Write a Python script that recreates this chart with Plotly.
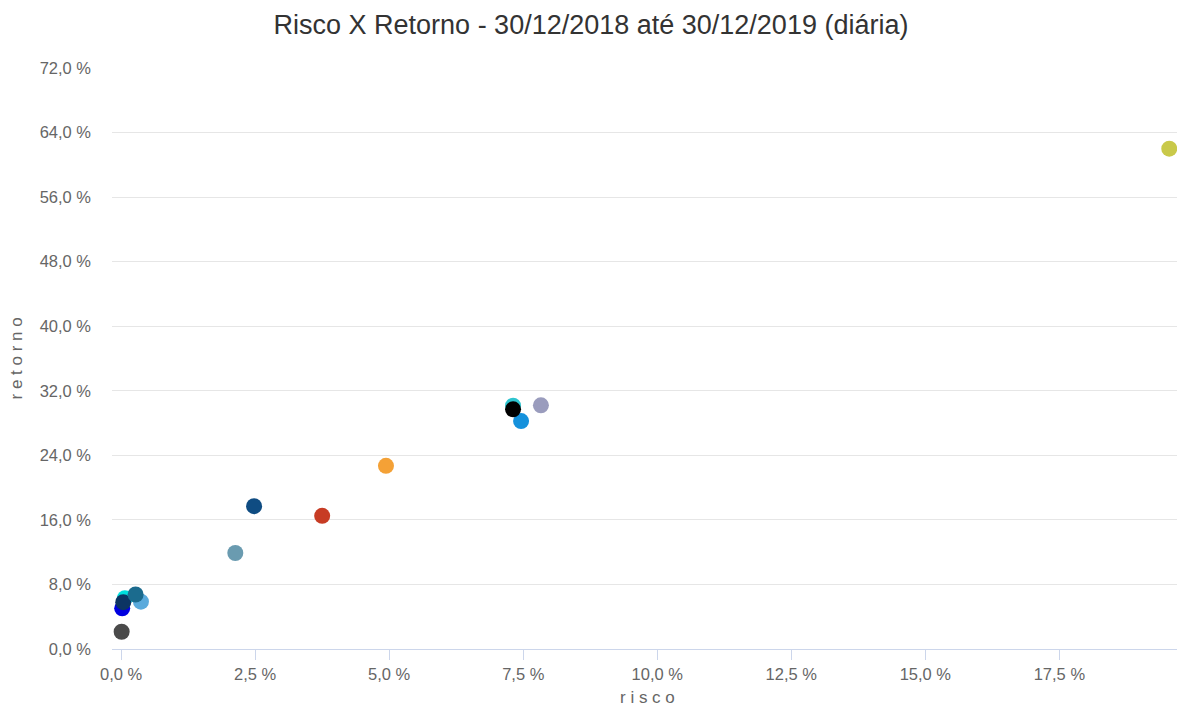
import plotly.graph_objects as go

# Data (risk %, return %); list order = drawing order
risco = [19.55, 7.83, 7.46, 7.31, 7.31, 4.94, 3.75, 2.48, 2.13, 0.01, 0.07, 0.02, 0.04, 0.37, 0.27]
retorno = [62.0, 30.2, 28.25, 30.15, 29.7, 22.7, 16.5, 17.7, 11.9, 2.14, 6.3, 5.04, 5.8, 5.86, 6.75]
cores = ["#c9c94a", "#9a9cbd", "#1591dc", "#2ec4cf", "#000000", "#f4a136", "#c73c24",
         "#0f4c82", "#6a9bb0", "#4a4a4a", "#00dede", "#0000e0", "#0c3463", "#5aaadc", "#1b6b8e"]

x_ticks = [0, 2.5, 5, 7.5, 10, 12.5, 15, 17.5]
x_labels = ["0,0 %", "2,5 %", "5,0 %", "7,5 %", "10,0 %", "12,5 %", "15,0 %", "17,5 %"]
y_ticks = [0, 8, 16, 24, 32, 40, 48, 56, 64, 72]
y_labels = ["0,0 %", "8,0 %", "16,0 %", "24,0 %", "32,0 %", "40,0 %", "48,0 %", "56,0 %", "64,0 %", "72,0 %"]

fig = go.Figure()
for xv, yv, c in zip(risco, retorno, cores):
    fig.add_trace(go.Scatter(
        x=[xv], y=[yv], mode="markers",
        marker=dict(size=16, color=c, line=dict(width=0)),
        showlegend=False,
        hovertemplate="risco: %{x:.2f} %<br>retorno: %{y:.2f} %<extra></extra>",
    ))

font_family = "Liberation Sans, Arial, sans-serif"

# page has an 8px body margin, so plot area is placed 8px up/left
L, T, R, B = 104, 60, 1172, 641
W, H = 1185, 705

fig.update_layout(
    width=W, height=H,
    paper_bgcolor="white", plot_bgcolor="white",
    margin=dict(l=L, r=W - R, t=T, b=H - B, autoexpand=False),
    font=dict(family=font_family, color="#666666", size=16),
    title=dict(text="Risco X Retorno - 30/12/2018 até 30/12/2019 (diária)",
               x=583 / W, xanchor="center", y=1 - 17 / H, yanchor="middle",
               automargin=False,
               font=dict(size=27, color="#333333", family=font_family)),
    xaxis=dict(
        range=[-0.17, 19.75], tickvals=x_ticks, ticktext=x_labels,
        showgrid=False, zeroline=False, automargin=False,
        showline=True, linecolor="#ccd6eb", linewidth=1,
        ticks="outside", ticklen=10, tickcolor="#ccd6eb",
        tickfont=dict(size=16.5, color="#666666"),
    ),
    yaxis=dict(
        range=[0, 72], tickvals=y_ticks, ticktext=y_labels,
        showgrid=True, gridcolor="#e6e6e6", gridwidth=1,
        zeroline=False, showline=False, ticks="", automargin=False,
        ticklabelstandoff=20,
        tickfont=dict(size=16.5, color="#666666"),
    ),
    annotations=[
        dict(text="r i s c o", xref="paper", yref="paper", x=(647 - 112) / (R - L),
             y=-(697 - 649) / (B - T), xanchor="center", yanchor="middle", showarrow=False,
             font=dict(size=17, color="#666666")),
        dict(text="r e t o r n o", xref="paper", yref="paper", x=-(112 - 16) / (R - L),
             y=0.5, xanchor="center", yanchor="middle", showarrow=False, textangle=-90,
             font=dict(size=17, color="#666666")),
    ],
)

fig.write_html("out.html")
